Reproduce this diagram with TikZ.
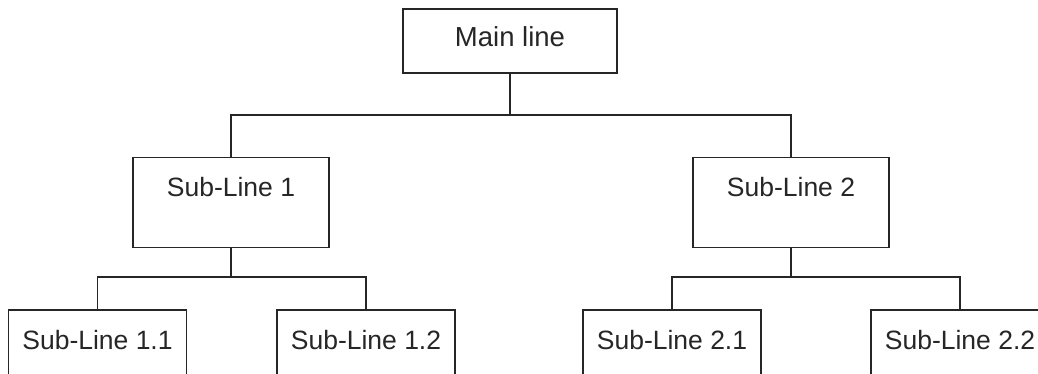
\documentclass[tikz,border=0pt]{standalone}
\usepackage{fontspec}
\setmainfont{Liberation Sans}
\begin{document}
\begin{tikzpicture}[x=1pt,y=-1pt,
  box/.style={draw=black!85,line width=1.6pt,fill=white,inner sep=0pt,outer sep=0pt,
    text=black!85,font=\fontsize{26.5}{30}\selectfont},
  topbox/.style={box,minimum width=214pt,text height=37.3pt,text depth=26.7pt,font=\fontsize{27.5}{30}\selectfont},
  midbox/.style={box,minimum width=196pt,text height=38.5pt,text depth=51.5pt},
  lowbox/.style={box,minimum width=178pt,text height=39.5pt,text depth=60pt},
  link/.style={draw=black!85,line width=1.6pt}]
\clip (0,0) rectangle (1038,373);
\fill[white] (0,0) rectangle (1038,373);
\node[topbox,anchor=north] (main) at (510,9) {Main line};
\node[midbox,anchor=north] (s1) at (231,157.5) {Sub-Line 1};
\node[midbox,anchor=north] (s2) at (791,157.5) {Sub-Line 2};
\node[lowbox,anchor=north] (s11) at (97.5,310) {Sub-Line 1.1};
\node[lowbox,anchor=north] (s12) at (366,310) {Sub-Line 1.2};
\node[lowbox,anchor=north] (s21) at (672,310) {Sub-Line 2.1};
\node[lowbox,anchor=north] (s22) at (960,310) {Sub-Line 2.2};
\coordinate (j0) at (510,115);
\coordinate (j1) at (231,277);
\coordinate (j2) at (791,277);
\draw[link] (main.south) -- (j0) -| (s1.north);
\draw[link] (j0) -| (s2.north);
\draw[link] (s1.south) -- (j1) -| (s11.north);
\draw[link] (j1) -| (s12.north);
\draw[link] (s2.south) -- (j2) -| (s21.north);
\draw[link] (j2) -| (s22.north);
\end{tikzpicture}
\end{document}
